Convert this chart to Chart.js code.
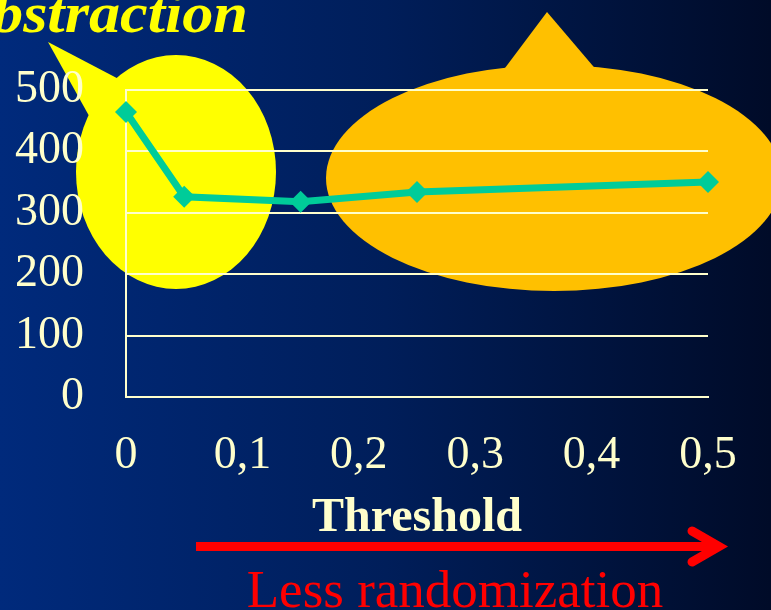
<!DOCTYPE html>
<html>
<head>
<meta charset="utf-8">
<script src="https://cdn.jsdelivr.net/npm/chart.js@4/dist/chart.umd.min.js"></script>
<style>
  html, body { margin: 0; padding: 0; background: #001e5a; overflow: hidden; }
  canvas { display: block; }
</style>
</head>
<body>
<canvas id="chart" width="771" height="610"></canvas>
<script>
// Threshold values and the measured results
const thresholds = [0, 0.05, 0.15, 0.25, 0.5];
const results = [464, 326, 318, 334, 350];
const xTickLabels = ['0', '0,1', '0,2', '0,3', '0,4', '0,5'];
const yTickValues = [0, 100, 200, 300, 400, 500];

const CREAM = '#FFFFCC';
const SERIF = '"Liberation Serif", "Times New Roman", serif';

// Slide background and the two speech-bubble callouts behind the plot
const backdrop = {
  id: 'backdrop',
  beforeDraw(chart) {
    const ctx = chart.ctx;
    const w = chart.width, h = chart.height;
    ctx.save();
    const g = ctx.createLinearGradient(0, 0, w, 0);
    g.addColorStop(0, '#002a7c');
    g.addColorStop(0.5, '#001e5a');
    g.addColorStop(1, '#000b28');
    ctx.fillStyle = g;
    ctx.fillRect(0, 0, w, h);

    // yellow bubble, tail pointing up-left
    ctx.fillStyle = '#FFFF00';
    ctx.beginPath();
    ctx.ellipse(176, 172, 100, 117, 0, 0, Math.PI * 2);
    ctx.fill();
    ctx.beginPath();
    ctx.moveTo(48, 42);
    ctx.lineTo(132, 86);
    ctx.lineTo(98, 132);
    ctx.closePath();
    ctx.fill();

    // orange bubble, tail pointing up
    ctx.fillStyle = '#FFC000';
    ctx.beginPath();
    ctx.ellipse(554, 178, 228, 113, 0, 0, Math.PI * 2);
    ctx.fill();
    ctx.beginPath();
    ctx.moveTo(547, 12);
    ctx.lineTo(610, 86);
    ctx.lineTo(490, 88);
    ctx.closePath();
    ctx.fill();
    ctx.restore();
  },
  afterDraw(chart) {
    const ctx = chart.ctx;
    ctx.save();
    // heading running off the left edge
    ctx.font = 'italic bold 58px ' + SERIF;
    ctx.fillStyle = '#FFFF00';
    ctx.textBaseline = 'alphabetic';
    ctx.textAlign = 'right';
    const tw = ctx.measureText('bstraction').width;
    const sx = 256 / tw;
    ctx.translate(248, 32);
    ctx.scale(sx, 1);
    ctx.fillText('Abstraction', 0, 0);
    ctx.restore();

    // red arrow under the axis title
    ctx.save();
    ctx.strokeStyle = '#FF0000';
    ctx.lineWidth = 9;
    ctx.lineCap = 'butt';
    ctx.beginPath();
    ctx.moveTo(196, 546.5);
    ctx.lineTo(716, 546.5);
    ctx.stroke();
    ctx.lineCap = 'round';
    ctx.lineJoin = 'miter';
    ctx.beginPath();
    ctx.moveTo(692, 531);
    ctx.lineTo(719, 546.5);
    ctx.lineTo(692, 562);
    ctx.stroke();

    ctx.fillStyle = '#FF0000';
    ctx.font = '53px ' + SERIF;
    ctx.textAlign = 'center';
    ctx.textBaseline = 'alphabetic';
    ctx.fillText('Less randomization', 455, 607);
    ctx.restore();
  }
};

new Chart(document.getElementById('chart'), {
  type: 'line',
  data: {
    datasets: [{
      data: thresholds.map((t, i) => ({ x: t, y: results[i] })),
      borderColor: '#00CC99',
      backgroundColor: '#00CC99',
      borderWidth: 7,
      pointStyle: 'rectRot',
      pointRadius: 11,
      pointBorderWidth: 0,
      tension: 0,
      fill: false,
      clip: false
    }]
  },
  options: {
    responsive: false,
    animation: false,
    layout: { padding: { left: 15, right: 63, top: 90, bottom: 0 } },
    plugins: { legend: { display: false }, tooltip: { enabled: false } },
    scales: {
      x: {
        type: 'linear',
        min: 0,
        max: 0.5,
        afterBuildTicks(scale) {
          scale.ticks = xTickLabels.map((_, i) => ({ value: i / 10 }));
        },
        afterFit(scale) { scale.height = 213; },
        grid: { display: false, drawTicks: false },
        border: { display: true, color: CREAM, width: 2 },
        ticks: {
          color: CREAM,
          font: { family: SERIF, size: 46 },
          padding: 31,
          maxRotation: 0,
          autoSkip: false,
          callback: (v, i) => xTickLabels[i]
        },
        title: {
          display: true,
          text: 'Threshold',
          color: CREAM,
          font: { family: SERIF, size: 48, weight: 'bold' },
          padding: { top: 6, bottom: 63 }
        }
      },
      y: {
        min: 0,
        max: 500,
        afterBuildTicks(scale) {
          scale.ticks = yTickValues.map(v => ({ value: v }));
        },
        afterFit(scale) { scale.width = 111; },
        grid: { color: CREAM, lineWidth: 2, drawTicks: false },
        border: { display: true, color: CREAM, width: 2 },
        ticks: {
          color: CREAM,
          font: { family: SERIF, size: 46 },
          padding: 42,
          autoSkip: false
        }
      }
    }
  },
  plugins: [backdrop]
});
</script>
</body>
</html>
